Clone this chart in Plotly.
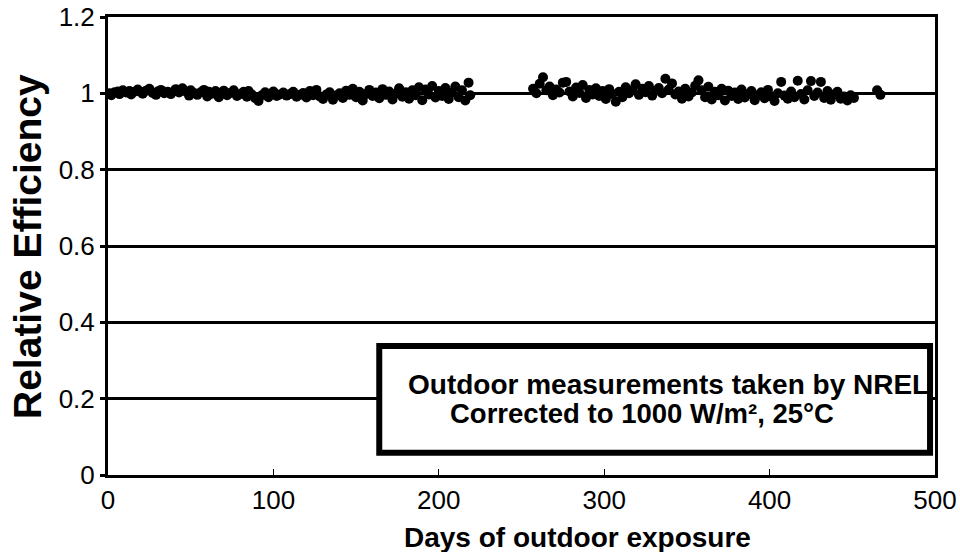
import plotly.graph_objects as go

# First exposure period (days, relative efficiency)
days_a = [1, 2, 4, 6, 7, 9, 11, 13, 14, 16,
          18, 20, 21, 23, 25, 27, 29, 30, 32, 34,
          36, 38, 40, 41, 43, 45, 47, 49, 50, 52,
          54, 56, 58, 60, 61, 63, 65, 67, 69, 70,
          72, 74, 76, 78, 80, 82, 84, 85, 87, 89,
          91, 93, 95, 97, 98, 100, 102, 104, 106, 108,
          110, 112, 114, 116, 118, 120, 122, 124, 126, 128,
          130, 132, 134, 136, 138, 140, 142, 144, 146, 148,
          150, 152, 154, 156, 158, 160, 162, 164, 166, 168,
          170, 172, 174, 176, 178, 180, 182, 184, 186, 188,
          190, 192, 194, 196, 198, 200, 202, 204, 206, 208,
          210, 212, 214, 216, 218, 219]
eff_a = [1.000, 0.995, 1.003, 1.005, 0.998, 1.008, 1.002, 1.006, 0.997, 1.004,
         1.010, 1.003, 0.999, 1.007, 1.012, 1.001, 0.996, 1.005, 1.009, 1.000,
         1.004, 0.998, 1.006, 1.011, 1.002, 1.013, 1.005, 0.994, 1.008, 1.001,
         0.996, 1.003, 1.009, 0.992, 1.004, 0.999, 1.006, 0.990, 1.002, 1.007,
         0.995, 1.001, 1.008, 0.993, 0.998, 1.004, 0.991, 1.006, 0.997, 0.987,
         0.980, 0.995, 1.003, 0.990, 0.999, 1.005, 0.993, 0.997, 1.002, 0.994,
         0.998, 1.004, 0.991, 0.996, 1.001, 0.989, 1.006, 0.995, 1.009, 0.992,
         0.985, 0.997, 1.003, 0.983, 0.994, 1.000, 0.988, 1.007, 0.996, 1.012,
         0.990, 1.004, 0.981, 0.998, 1.009, 0.993, 1.002, 0.987, 1.011, 0.996,
         1.005, 0.984, 0.999, 1.013, 0.991, 1.003, 0.986, 1.008, 0.995, 1.016,
         0.982, 1.010, 0.997, 1.019, 0.989, 1.006, 0.993, 1.014, 0.985, 1.002,
         1.018, 0.990, 1.008, 0.981, 1.028, 0.995]

# Second exposure period
days_b = [257, 259, 261, 263, 265, 267, 269, 271, 273, 275,
          277, 279, 281, 283, 285, 287, 289, 291, 293, 295,
          297, 299, 301, 303, 305, 307, 309, 311, 313, 315,
          317, 319, 321, 323, 325, 327, 329, 331, 333, 335,
          337, 339, 341, 343, 345, 347, 349, 351, 353, 355,
          357, 359, 361, 363, 365, 367, 369, 371, 373, 375,
          377, 379, 381, 383, 385, 387, 389, 391, 393, 395,
          397, 399, 401, 403, 405, 407, 409, 411, 413, 415,
          417, 419, 421, 423, 425, 427, 429, 431, 433, 435,
          437, 439, 441, 443, 445, 447, 449, 451, 465, 467]
eff_b = [1.012, 1.000, 1.025, 1.042, 1.008, 1.018, 0.995, 1.010, 1.002, 1.028,
         1.030, 1.005, 0.992, 1.015, 1.001, 1.022, 0.988, 1.009, 0.997, 1.013,
         0.993, 1.006, 0.985, 1.011, 0.998, 0.978, 1.004, 0.990, 1.016, 1.000,
         1.008, 1.024, 0.996, 1.012, 1.003, 1.019, 0.994, 1.007, 1.014, 1.000,
         1.038, 1.010, 1.026, 0.997, 1.005, 0.986, 1.012, 0.992, 1.002, 1.020,
         1.034, 1.008, 0.990, 1.017, 0.984, 1.004, 0.995, 1.012, 0.981, 1.007,
         0.993, 1.002, 0.985, 1.010, 0.989, 0.998, 1.006, 0.982, 0.995, 1.003,
         0.987, 1.009, 0.992, 0.980, 1.000, 1.030, 0.994, 0.986, 1.005, 0.990,
         1.033, 0.998, 0.984, 1.008, 1.032, 0.993, 1.002, 1.030, 0.988, 1.006,
         0.983, 0.997, 1.004, 0.986, 0.992, 0.981, 0.995, 0.988, 1.008, 0.996]

x_ticks = [0, 100, 200, 300, 400, 500]
y_ticks = [0, 0.2, 0.4, 0.6, 0.8, 1.0, 1.2]
y_tick_text = ["0", "0.2", "0.4", "0.6", "0.8", "1", "1.2"]

x_title = "Days of outdoor exposure"
y_title = "Relative Efficiency"
note_lines = ["Outdoor measurements taken by NREL",
              "Corrected to 1000 W/m², 25°C"]

FONT = "Liberation Sans, Arial, sans-serif"
W, H = 960, 552
L, R, T, B = 108, 25, 17, 77


def px_to_paper(px, py):
    """Pixel position on the page -> paper coordinates of the plot area."""
    return (px - L) / (W - L - R), (H - B - py) / (H - T - B)


fig = go.Figure()
for xs, ys in ((days_a, eff_a), (days_b, eff_b)):
    fig.add_trace(go.Scatter(
        x=xs, y=ys, mode="markers",
        marker=dict(color="black", size=10, line=dict(width=0)),
        showlegend=False, cliponaxis=False,
    ))

# Note box
fig.add_shape(type="rect", xref="x", yref="y",
              x0=164, x1=497, y0=0.058, y1=0.338,
              fillcolor="white", line=dict(color="black", width=6),
              layer="above")
fig.add_annotation(x=339, y=0.238, xref="x", yref="y", text=f"<b>{note_lines[0]}</b>",
                   showarrow=False, font=dict(family=FONT, size=28, color="black"))
fig.add_annotation(x=323, y=0.162, xref="x", yref="y", text=f"<b>{note_lines[1]}</b>",
                   showarrow=False, font=dict(family=FONT, size=27.5, color="black"))

# Axis titles
xt_x, xt_y = px_to_paper(577, 537)
fig.add_annotation(x=xt_x, y=xt_y, xref="paper", yref="paper", text=f"<b>{x_title}</b>",
                   xanchor="center", yanchor="middle", showarrow=False,
                   font=dict(family=FONT, size=28, color="black"))
yt_x, yt_y = px_to_paper(28, 247)
fig.add_annotation(x=yt_x, y=yt_y, xref="paper", yref="paper", text=f"<b>{y_title}</b>",
                   xanchor="center", yanchor="middle", textangle=-90, showarrow=False,
                   font=dict(family=FONT, size=39, color="black"))

fig.update_layout(
    width=W, height=H,
    margin=dict(l=L, r=R, t=T, b=B),
    paper_bgcolor="white", plot_bgcolor="white",
    font=dict(family=FONT, color="black"),
    xaxis=dict(
        range=[0, 500], tickvals=x_ticks, ticks="inside", ticklen=6,
        tickwidth=1, tickcolor="black", showgrid=False, zeroline=False,
        showline=True, linecolor="black", linewidth=3, mirror=True,
        tickfont=dict(size=26, family=FONT), automargin=False,
    ),
    yaxis=dict(
        range=[0, 1.2], tickvals=y_ticks, ticktext=y_tick_text,
        ticks="outside", ticklen=5, tickwidth=3, tickcolor="black",
        showgrid=True, gridcolor="black", gridwidth=3, zeroline=False,
        showline=True, linecolor="black", linewidth=3, mirror=True,
        tickfont=dict(size=26, family=FONT), automargin=False,
    ),
)

fig.write_html("out.html")
